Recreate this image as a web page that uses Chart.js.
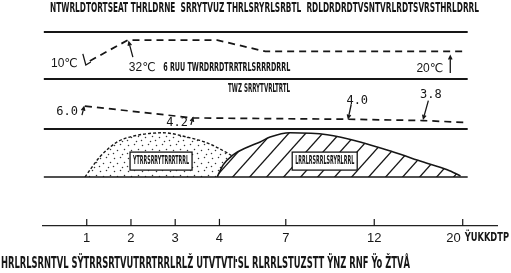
<!DOCTYPE html>
<html lang="zh">
<head>
<meta charset="UTF-8">
<title>Fermentation stages</title>
<script src="https://cdn.jsdelivr.net/npm/chart.js@4.4.1/dist/chart.umd.min.js"></script>
<style>
  html, body { margin: 0; padding: 0; background: #fff; }
</style>
</head>
<body>
<canvas id="fermChart" width="511" height="273"></canvas>
<script>
// ---- data ----
const dayTicks = [1, 2, 3, 4, 7, 12, 20];

const tempDays   = [1.07, 1.93, 3.95, 6.07, 20.05];
const tempValues = [10, 32, 32, 20, 20];
const tempLabels = ['10℃', '32℃', '', '', '20℃'];

const phDays   = [0.96, 3.4, 10.53, 16.44, 20.4];
const phValues = [6.0, 4.2, 4.0, 3.8, 3.5];
const phLabels = ['6.0', '4.2', '4.0', '3.8', ''];

// relative abundance of the two microbe groups (0-100)
const dottedDays   = [0.96, 1.3, 1.69, 2.05, 2.73, 3.27, 3.72, 4.35, 5.16, 5.84];
const dottedValues = [0, 42, 73, 85, 92, 83, 71, 50, 25, 0];
const hatchedDays   = [3.95, 4.17, 4.62, 5.26, 5.84, 6.29, 7.24, 9.34, 11.2, 13.72, 16.44, 18.6, 19.8];
const hatchedValues = [0, 25, 46, 62, 73, 83, 92, 88, 73, 52, 31, 15, 2];

// text as printed (garbled in the scan)
const titleText   = 'NTWRLDTORTSEAT THRLDRNE  SRRYTVUZ THRLSRYRLSRBTL  RDLDRDRDTVSNTVRLRDTSVRSTHRLDRRL';
const captionText = 'HRLRLSRNTVL SŸTRRSRTVUTRRTRRLRLŽ UTVTVTŀSL RLRRLSTUZSTT ŸNZ RNF Ÿo ŽTVÅ';
const bandTitles  = ['6 RUU TWRDRRDTRRTRLSRRRDRRL', 'TWZ SRRYTVRLTRTL'];
const boxTitles   = ['YTRRSRRYTRRRTRRL', 'LRRLRSRRLSRYRLRRL'];
const axisUnit    = 'ŸUKKDTP';

// ---- schematic day axis: ticks are not evenly spaced in the drawing ----
const slotStops = [0, 1, 2, 3, 4.5, 6.5, 8.5];
function toSlot(d) {
  if (d <= dayTicks[0]) return d - dayTicks[0];
  const n = dayTicks.length - 1;
  if (d >= dayTicks[n]) return slotStops[n] + (d - dayTicks[n]) / 4;
  for (let i = 0; i < n; i++) {
    if (d <= dayTicks[i + 1]) {
      const f = (d - dayTicks[i]) / (dayTicks[i + 1] - dayTicks[i]);
      return slotStops[i] + f * (slotStops[i + 1] - slotStops[i]);
    }
  }
}
function fromSlot(s) {
  const n = dayTicks.length - 1;
  if (s <= 0) return s + dayTicks[0];
  if (s >= slotStops[n]) return dayTicks[n] + (s - slotStops[n]) * 4;
  for (let i = 0; i < n; i++) {
    if (s <= slotStops[i + 1]) {
      const f = (s - slotStops[i]) / (slotStops[i + 1] - slotStops[i]);
      return dayTicks[i] + f * (dayTicks[i + 1] - dayTicks[i]);
    }
  }
}
class DayAxis extends Chart.LinearScale {
  getPixelForValue(v) {
    const a = toSlot(this.min), b = toSlot(this.max);
    return this.getPixelForDecimal((toSlot(v) - a) / (b - a));
  }
  getValueForPixel(p) {
    const a = toSlot(this.min), b = toSlot(this.max);
    return fromSlot(a + this.getDecimalForPixel(p) * (b - a));
  }
}
DayAxis.id = 'dayaxis';
DayAxis.defaults = Chart.LinearScale.defaults;
Chart.register(DayAxis);

// ---- fills ----
const canvas = document.getElementById('fermChart');
const mainCtx = canvas.getContext('2d');
const ink = '#161616';

function hatchPattern() {
  const w = 17, h = 19;
  const c = document.createElement('canvas');
  c.width = w; c.height = h;
  const g = c.getContext('2d');
  g.fillStyle = '#fff';
  g.fillRect(0, 0, w, h);
  g.strokeStyle = ink;
  g.lineWidth = 1.3;
  for (const k of [-1, 0, 1]) {
    g.beginPath();
    g.moveTo(-w, h * (2 + k));
    g.lineTo(2 * w, h * (k - 1));
    g.stroke();
  }
  return mainCtx.createPattern(c, 'repeat');
}
function dotPattern() {
  const c = document.createElement('canvas');
  c.width = 14; c.height = 13;
  const g = c.getContext('2d');
  g.fillStyle = '#fff';
  g.fillRect(0, 0, 14, 13);
  g.fillStyle = '#333';
  [[2, 2], [8, 1], [12, 6], [5, 7], [10, 11], [1, 10]].forEach(([px, py]) => {
    g.beginPath();
    g.arc(px + 0.5, py + 0.5, 0.75, 0, Math.PI * 2);
    g.fill();
  });
  return mainCtx.createPattern(c, 'repeat');
}

// ---- drawing helpers ----
function squish(ctx, text, left, midY, width, font) {
  ctx.save();
  ctx.font = font;
  ctx.textBaseline = 'middle';
  ctx.textAlign = 'left';
  const w0 = ctx.measureText(text).width;
  ctx.translate(left, midY);
  ctx.scale(width / w0, 1);
  ctx.fillText(text, 0, 0);
  ctx.restore();
}
function arrow(ctx, x1, y1, x2, y2) {
  const ang = Math.atan2(y2 - y1, x2 - x1), len = 4;
  ctx.beginPath();
  ctx.moveTo(x1, y1);
  ctx.lineTo(x2, y2);
  ctx.moveTo(x2 - len * Math.cos(ang - 0.45), y2 - len * Math.sin(ang - 0.45));
  ctx.lineTo(x2, y2);
  ctx.lineTo(x2 - len * Math.cos(ang + 0.45), y2 - len * Math.sin(ang + 0.45));
  ctx.stroke();
}

const narrowBold = sz => `bold ${sz}px "Liberation Sans Narrow", "DejaVu Sans Condensed", sans-serif`;
const tempFont = '12px "Liberation Sans", "DejaVu Sans", sans-serif';
const phFont = '12px "DejaVu Sans Mono", monospace';

const annotate = {
  id: 'annotate',
  afterDatasetsDraw(chart) {
    const { ctx } = chart;
    const { x, yTemp, yPh, yMicro } = chart.scales;
    ctx.save();
    ctx.strokeStyle = ink;
    ctx.fillStyle = ink;

    // band rules
    const xl = x.getPixelForValue(0.03), xr = x.getPixelForValue(20.45);
    [[yTemp.top, 2], [yPh.top, 2], [yMicro.top, 2], [yMicro.bottom, 1.6]].forEach(([yy, lw]) => {
      ctx.lineWidth = lw;
      ctx.beginPath();
      ctx.moveTo(xl, yy);
      ctx.lineTo(xr, yy);
      ctx.stroke();
    });

    // inward tick marks on the day axis
    ctx.lineWidth = 1.2;
    x.ticks.forEach(t => {
      const px = x.getPixelForValue(t.value);
      ctx.beginPath();
      ctx.moveTo(px, x.top);
      ctx.lineTo(px, x.top - 7);
      ctx.stroke();
    });
    const p20 = x.getPixelForValue(dayTicks[dayTicks.length - 1]);
    ctx.font = '13px "Liberation Sans", sans-serif';
    ctx.textAlign = 'right';
    ctx.textBaseline = 'middle';
    ctx.fillText(String(dayTicks[dayTicks.length - 1]), p20 - 2, x.top + 13);
    squish(ctx, axisUnit, p20 + 2, x.top + 12, 509 - p20 - 2, narrowBold(13));

    // temperature labels
    const tPts = chart.getDatasetMeta(2).data;
    ctx.font = tempFont;
    ctx.lineWidth = 1.3;
    let p = tPts[0];
    ctx.textAlign = 'right';
    ctx.fillText(tempLabels[0], p.x - 12, p.y + 3);
    ctx.beginPath();
    ctx.moveTo(p.x - 7, p.y - 7);
    ctx.lineTo(p.x - 4, p.y + 4);
    ctx.lineTo(p.x + 1, p.y + 1);
    ctx.stroke();
    p = tPts[1];
    ctx.textAlign = 'left';
    ctx.fillText(tempLabels[1], p.x + 1, p.y + 28);
    arrow(ctx, p.x + 5, p.y + 17, p.x + 1, p.y + 2);
    p = tPts[4];
    ctx.textAlign = 'right';
    ctx.fillText(tempLabels[4], p.x - 20, p.y + 17.5);
    arrow(ctx, p.x - 13, p.y + 21.5, p.x - 13, p.y + 4.5);

    // pH labels
    const hPts = chart.getDatasetMeta(3).data;
    ctx.font = phFont;
    p = hPts[0];
    ctx.textAlign = 'right';
    ctx.fillText(phLabels[0], p.x - 7, p.y + 6);
    arrow(ctx, p.x - 3, p.y + 9, p.x - 1, p.y + 1);
    p = hPts[1];
    ctx.fillText(phLabels[1], p.x - 5, p.y + 5);
    arrow(ctx, p.x - 2, p.y + 7, p.x, p.y);
    ctx.textAlign = 'center';
    p = hPts[2];
    ctx.fillText(phLabels[2], p.x + 9, p.y - 18.5);
    arrow(ctx, p.x + 3, p.y - 15, p.x, p.y - 1);
    p = hPts[3];
    ctx.fillText(phLabels[3], p.x + 7.5, p.y - 26);
    arrow(ctx, p.x + 5, p.y - 20, p.x, p.y - 2);

    // band captions
    squish(ctx, bandTitles[0], x.getPixelForValue(2.73), yTemp.getPixelForValue(3.1), 127, narrowBold(12));
    squish(ctx, bandTitles[1], x.getPixelForValue(4.39), yPh.getPixelForValue(8.58), 62, narrowBold(12));

    // labelled boxes inside the two humps
    [[2.68, boxTitles[0], 62], [9.2, boxTitles[1], 65]].forEach(([d, txt, w]) => {
      const cx = x.getPixelForValue(d), cy = yMicro.getPixelForValue(33);
      ctx.fillStyle = '#fff';
      ctx.fillRect(cx - w / 2, cy - 9, w, 18);
      ctx.lineWidth = 1.3;
      ctx.strokeRect(cx - w / 2, cy - 9, w, 18);
      ctx.fillStyle = ink;
      squish(ctx, txt, cx - w / 2 + 3, cy, w - 6, narrowBold(12));
    });

    // title and caption
    squish(ctx, titleText, 50, 8, 429, narrowBold(14));
    squish(ctx, captionText, 1, 263.5, 409, narrowBold(16));
    ctx.restore();
  }
};

const pts = (xs, ys) => xs.map((d, i) => ({ x: d, y: ys[i] }));

new Chart(canvas, {
  type: 'line',
  data: {
    datasets: [
      {
        label: 'hatched',
        data: pts(hatchedDays, hatchedValues),
        yAxisID: 'yMicro',
        borderColor: ink,
        borderWidth: 1.6,
        backgroundColor: hatchPattern(),
        fill: 'origin',
        cubicInterpolationMode: 'monotone',
        pointRadius: 0,
        order: 0
      },
      {
        label: 'dotted',
        data: pts(dottedDays, dottedValues),
        yAxisID: 'yMicro',
        borderColor: ink,
        borderWidth: 1.4,
        borderDash: [3, 2],
        backgroundColor: dotPattern(),
        fill: 'origin',
        cubicInterpolationMode: 'monotone',
        pointRadius: 0,
        order: 1
      },
      {
        label: 'temperature',
        data: pts(tempDays, tempValues),
        yAxisID: 'yTemp',
        borderColor: ink,
        borderWidth: 1.8,
        borderDash: [7, 5],
        fill: false,
        tension: 0,
        pointRadius: 0
      },
      {
        label: 'pH',
        data: pts(phDays, phValues),
        yAxisID: 'yPh',
        borderColor: ink,
        borderWidth: 1.7,
        borderDash: [7, 5],
        fill: false,
        tension: 0,
        pointRadius: 0
      }
    ]
  },
  options: {
    responsive: false,
    animation: false,
    layout: { padding: { left: 42.5, right: 14, top: 32, bottom: 21.5 } },
    plugins: { legend: { display: false }, tooltip: { enabled: false } },
    scales: {
      x: {
        type: 'dayaxis',
        min: 0,
        max: 23.1,
        afterBuildTicks: s => { s.ticks = dayTicks.map(v => ({ value: v })); },
        ticks: {
          autoSkip: false,
          maxRotation: 0,
          padding: 5,
          color: ink,
          font: { family: '"Liberation Sans", sans-serif', size: 13 },
          callback: (v, i) => (i === dayTicks.length - 1 ? '' : String(dayTicks[i]))
        },
        grid: { display: false, drawTicks: false },
        border: { display: true, color: '#222', width: 1.3 }
      },
      // stacked bands: the first one listed ends up at the bottom
      yGap:   { position: 'left', stack: 'bands', stackWeight: 49, min: 0, max: 1, display: false },
      yMicro: { position: 'left', stack: 'bands', stackWeight: 48, min: 0, max: 100, display: false },
      yPh:    { position: 'left', stack: 'bands', stackWeight: 50, min: 2.53, max: 10.1, display: false },
      yTemp:  { position: 'left', stack: 'bands', stackWeight: 47, min: -9, max: 40.5, display: false }
    }
  },
  plugins: [annotate]
});
</script>
</body>
</html>
